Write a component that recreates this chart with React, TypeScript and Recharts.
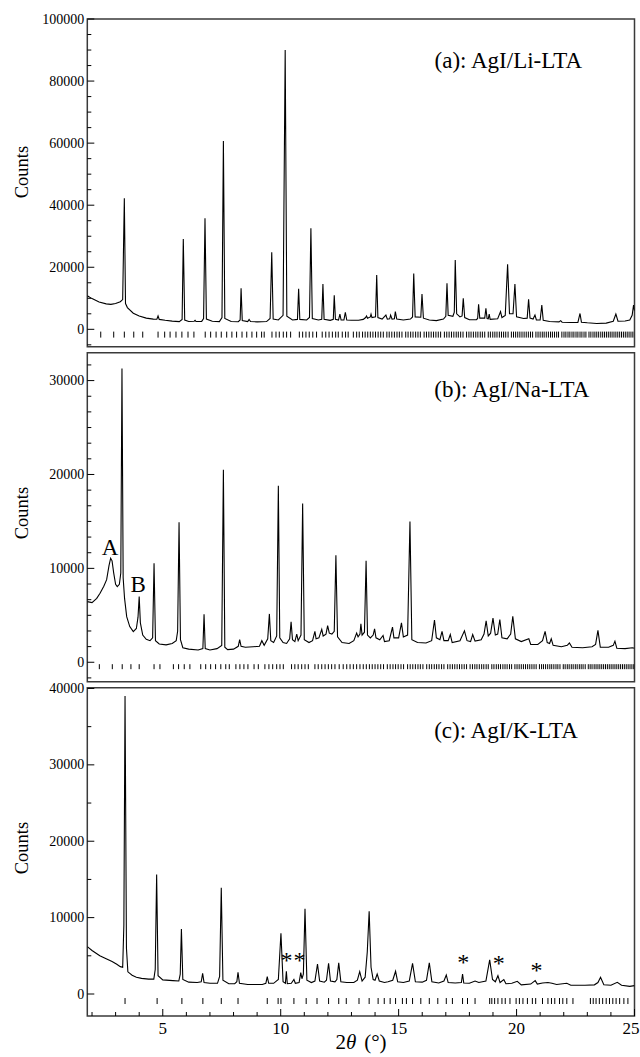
import React from 'react';
import { ComposedChart, Line, Scatter, XAxis, YAxis, ReferenceArea, ReferenceDot } from 'recharts';

const SERIF = '"Liberation Serif", "Times New Roman", Times, serif';

// ---- x axis ----
const X_MIN = 1.8;
const X_MAX = 25;
const X_TICKS = [2, 3, 4, 5, 6, 7, 8, 9, 10, 11, 12, 13, 14, 15, 16, 17, 18, 19, 20, 21, 22, 23, 24, 25];
const X_LABELS = [5, 10, 15, 20, 25];

// ---- (a) AgI/Li-LTA ----
const liPattern: [number, number][] = [
  [1.8, 10800], [2.0, 9900], [2.3, 8800], [2.6, 8200], [2.8, 8050], [3.0, 8300], [3.2, 8900], [3.3, 9600],
  [3.37, 42200], [3.42, 8300], [3.5, 7000], [3.75, 5200], [4.0, 4300], [4.3, 3600], [4.6, 3300], [4.75, 3250],
  [4.8, 4300], [4.85, 3200], [5.1, 2900], [5.4, 2650], [5.7, 2500], [5.82, 3200], [5.87, 29100], [5.93, 3000],
  [6.1, 2500], [6.33, 2600], [6.37, 2900], [6.41, 2500], [6.65, 2550], [6.73, 3500], [6.79, 35800], [6.85, 3300],
  [7.1, 2600], [7.4, 2500], [7.51, 3800], [7.57, 60700], [7.63, 3500], [7.9, 2500], [8.2, 2450], [8.28, 3000],
  [8.32, 13200], [8.37, 2800], [8.6, 2500], [8.66, 3200], [8.72, 2500], [9.0, 2400], [9.4, 2500], [9.55, 3500],
  [9.62, 24800], [9.68, 3300], [9.9, 3000], [10.1, 4500], [10.19, 90000], [10.26, 4200], [10.5, 3000], [10.71, 3200],
  [10.76, 13100], [10.81, 3200], [11.1, 3000], [11.22, 3800], [11.28, 32600], [11.34, 3500], [11.6, 3000], [11.74, 3200],
  [11.79, 14600], [11.84, 3200], [12.1, 2900], [12.23, 3200], [12.27, 11000], [12.32, 3200], [12.45, 3000], [12.51, 4900],
  [12.56, 3000], [12.68, 3000], [12.74, 5500], [12.8, 3000], [13.0, 2900], [13.3, 2900], [13.5, 3200], [13.6, 3800],
  [13.64, 4300], [13.68, 3600], [13.8, 4000], [13.83, 4900], [13.87, 3800], [14.02, 4000], [14.07, 17500], [14.12, 3800],
  [14.3, 3300], [14.46, 4600], [14.52, 3300], [14.62, 3400], [14.66, 4600], [14.72, 3300], [14.82, 3400], [14.86, 5700],
  [14.92, 3300], [15.2, 3000], [15.5, 3300], [15.59, 4000], [15.64, 18000], [15.7, 4000], [15.94, 3900], [15.99, 11400],
  [16.05, 3600], [16.3, 3000], [16.6, 2800], [16.9, 3300], [17.0, 4200], [17.05, 14800], [17.1, 4500], [17.3, 4200],
  [17.36, 5500], [17.4, 22300], [17.46, 5000], [17.6, 4000], [17.69, 4300], [17.74, 10000], [17.8, 3800], [18.0, 3100],
  [18.3, 3100], [18.35, 3500], [18.39, 8100], [18.44, 3600], [18.65, 3600], [18.7, 6800], [18.75, 3500], [18.8, 3400],
  [18.84, 4900], [18.88, 3200], [19.2, 3400], [19.32, 5700], [19.38, 3800], [19.52, 4500], [19.62, 21000], [19.7, 5000],
  [19.85, 5000], [19.93, 14600], [20.0, 4000], [20.3, 3500], [20.45, 3600], [20.51, 9700], [20.57, 3600], [20.7, 3300],
  [20.78, 4600], [20.84, 3000], [21.0, 3000], [21.07, 7800], [21.13, 2900], [21.4, 2500], [21.8, 2400], [21.87, 2800],
  [21.93, 2300], [22.3, 2200], [22.6, 2200], [22.69, 5100], [22.75, 2300], [23.0, 2100], [23.4, 1900], [23.8, 2000],
  [24.1, 2600], [24.21, 4900], [24.3, 2600], [24.6, 2700], [24.8, 3000], [24.9, 4500], [24.96, 7800], [25.0, 6000],
];
const liBragg = [
  2.37, 2.92, 3.37, 3.77, 4.15, 4.8, 5.08, 5.31, 5.56, 5.81, 6.07, 6.32, 6.8, 7.03, 7.26, 7.48, 7.71, 7.93, 8.13,
  8.36, 8.56, 8.78, 8.98, 9.19, 9.3, 9.63, 9.8, 9.94, 10.11, 10.25, 10.42, 10.79, 10.93, 11.07, 11.21, 11.36, 11.52,
  11.76, 11.91, 12.05, 12.19, 12.33, 12.44, 12.61, 12.75, 12.86, 13.08, 13.22, 13.33,
  13.47, 13.58, 13.69, 13.8, 13.91, 14.02, 14.13, 14.24, 14.35, 14.5, 14.6, 14.71, 14.82, 14.93, 15.03, 15.14, 15.3,
  15.4, 15.51, 15.61, 15.72, 15.82, 15.92, 16.08, 16.18, 16.28, 16.38, 16.48, 16.58, 16.68, 16.78, 16.94, 17.04, 17.14,
  17.24, 17.34, 17.44, 17.53, 17.63, 17.73, 17.88, 17.98, 18.07, 18.17, 18.27, 18.36, 18.46, 18.55, 18.65, 18.8, 18.89,
  18.99, 19.08, 19.17, 19.27, 19.36, 19.45, 19.54, 19.64, 19.78, 19.87, 19.96, 20.05, 20.14, 20.23, 20.32, 20.41, 20.5,
  20.59, 20.68, 20.82, 20.91, 21.0, 21.09, 21.17, 21.26, 21.35, 21.44, 21.52, 21.61, 21.7, 21.78, 21.92, 22.01, 22.09,
  22.18, 22.26, 22.35, 22.43, 22.52, 22.6, 22.69, 22.77, 22.86, 22.94, 23.07, 23.15, 23.24, 23.32, 23.4, 23.48, 23.57,
  23.65, 23.73, 23.81, 23.89, 23.97, 24.05, 24.13, 24.21, 24.29, 24.37, 24.45, 24.53, 24.61, 24.69, 24.77, 24.85, 24.93,
];
const liYTicks = [-5000, 0, 5000, 10000, 15000, 20000, 25000, 30000, 35000, 40000, 45000, 50000, 55000, 60000, 65000,
  70000, 75000, 80000, 85000, 90000, 95000, 100000];
const liYLabels = [0, 20000, 40000, 60000, 80000, 100000];

// ---- (b) AgI/Na-LTA ----
const naPattern: [number, number][] = [
  [1.8, 6460], [2.0, 6350], [2.2, 6800], [2.34, 7350], [2.5, 8100], [2.62, 8800], [2.72, 10300], [2.79, 11080],
  [2.85, 10800], [2.92, 9500], [3.0, 8300], [3.07, 8050], [3.16, 8300], [3.22, 9500], [3.27, 31300], [3.32, 9000],
  [3.38, 6800], [3.47, 4860], [3.6, 3800], [3.75, 3260], [3.88, 3600], [3.95, 4800], [4.0, 7000], [4.05, 4200],
  [4.15, 2900], [4.3, 2450], [4.46, 2300], [4.57, 2600], [4.63, 10550], [4.69, 2300], [4.85, 1950], [5.14, 1850],
  [5.4, 2000], [5.57, 2300], [5.63, 3300], [5.69, 14900], [5.75, 2400], [5.85, 1550], [6.1, 1400], [6.5, 1300],
  [6.7, 1450], [6.75, 5100], [6.8, 1450], [7.0, 1300], [7.3, 1450], [7.5, 1800], [7.57, 20500], [7.63, 1600],
  [7.75, 1350], [8.0, 1400], [8.2, 1700], [8.26, 2400], [8.32, 1700], [8.5, 1600], [8.83, 1650], [9.1, 1700],
  [9.2, 2300], [9.3, 1800], [9.45, 2500], [9.52, 5150], [9.58, 2300], [9.7, 2100], [9.83, 2800], [9.9, 18800],
  [9.96, 2600], [10.1, 2100], [10.25, 2000], [10.38, 2500], [10.44, 4300], [10.5, 2400], [10.6, 2200], [10.68, 3000],
  [10.74, 2300], [10.86, 2900], [10.93, 16900], [11.0, 2400], [11.2, 2100], [11.35, 2300], [11.45, 3300], [11.5, 2500],
  [11.62, 2600], [11.74, 3500], [11.8, 2800], [11.92, 3000], [11.99, 3900], [12.06, 3100], [12.17, 3000], [12.27, 3300],
  [12.34, 11400], [12.41, 2700], [12.6, 2100], [12.9, 2000], [13.1, 2300], [13.22, 3100], [13.28, 2700], [13.36, 3000],
  [13.4, 4100], [13.45, 2900], [13.55, 3200], [13.62, 10800], [13.68, 2900], [13.8, 2600], [13.92, 2900], [13.98, 3550],
  [14.04, 2600], [14.2, 2400], [14.34, 2850], [14.4, 2200], [14.6, 2300], [14.74, 3750], [14.8, 2600], [15.0, 2600],
  [15.12, 4200], [15.2, 2700], [15.38, 2900], [15.48, 15000], [15.56, 2400], [15.8, 2100], [16.16, 2050], [16.4, 2300],
  [16.52, 4500], [16.6, 2600], [16.75, 2400], [16.84, 3300], [16.92, 2300], [17.1, 2300], [17.19, 2950], [17.27, 2100],
  [17.6, 2300], [17.79, 3350], [17.9, 2300], [18.05, 2200], [18.14, 2950], [18.24, 2250], [18.5, 2400], [18.62, 3000],
  [18.71, 4400], [18.8, 2800], [18.9, 3100], [19.0, 4700], [19.1, 2900], [19.2, 3000], [19.29, 4550], [19.38, 2600],
  [19.6, 2500], [19.75, 3000], [19.84, 4900], [19.95, 2500], [20.2, 2200], [20.52, 2500], [20.6, 1900], [20.9, 1900],
  [21.1, 2300], [21.21, 3300], [21.3, 2100], [21.4, 2000], [21.47, 2500], [21.55, 1800], [21.9, 1650], [22.15, 1800],
  [22.24, 2050], [22.35, 1600], [22.8, 1550], [23.2, 1650], [23.35, 1900], [23.45, 3400], [23.55, 1600], [23.9, 1600],
  [24.1, 1800], [24.17, 2250], [24.25, 1500], [24.6, 1450], [24.91, 1550], [25.0, 1500],
];
const naBragg = [
  2.31, 2.86, 3.28, 3.65, 4.0, 4.63, 4.88, 5.45, 5.67, 5.91, 6.15, 6.61, 6.82, 7.03, 7.24, 7.46, 7.67, 7.82, 8.1,
  8.27, 8.44, 8.61, 8.87, 9.05, 9.33, 9.5, 9.66, 9.83, 9.97, 10.11, 10.46, 10.6, 10.74, 10.89, 11.03, 11.17, 11.45,
  11.59, 11.74, 11.88, 12.02, 12.16, 12.3, 12.48, 12.65, 12.8, 12.94, 13.08, 13.22,
  13.36, 13.5, 13.63, 13.76, 13.88, 14.0, 14.12, 14.24, 14.36, 14.52, 14.64, 14.76, 14.87, 14.98, 15.1, 15.21, 15.38,
  15.49, 15.6, 15.71, 15.82, 15.92, 16.03, 16.19, 16.3, 16.4, 16.51, 16.61, 16.71, 16.82, 16.92, 17.08, 17.18, 17.28,
  17.38, 17.48, 17.58, 17.68, 17.78, 17.88, 18.03, 18.13, 18.23, 18.32, 18.42, 18.52, 18.61, 18.71, 18.8, 18.95, 19.04,
  19.14, 19.23, 19.32, 19.42, 19.51, 19.6, 19.7, 19.79, 19.93, 20.02, 20.11, 20.2, 20.29, 20.38, 20.47, 20.56, 20.65,
  20.74, 20.83, 20.97, 21.06, 21.14, 21.23, 21.32, 21.41, 21.49, 21.58, 21.67, 21.75, 21.84, 21.98, 22.06, 22.15, 22.23,
  22.32, 22.4, 22.49, 22.57, 22.66, 22.74, 22.82, 22.91, 23.04, 23.12, 23.2, 23.29, 23.37, 23.45, 23.53, 23.61, 23.69,
  23.77, 23.85, 23.93, 24.01, 24.09, 24.17, 24.25, 24.33, 24.41, 24.49, 24.57, 24.65, 24.73, 24.81, 24.89, 24.97,
];
const naYTicks = [-1667, 0, 1667, 3333, 5000, 6667, 8333, 10000, 11667, 13333, 15000, 16667, 18333, 20000, 21667,
  23333, 25000, 26667, 28333, 30000, 31667];
const naYLabels = [0, 10000, 20000, 30000];

// ---- (c) AgI/K-LTA ----
const kPattern: [number, number][] = [
  [1.8, 6200], [2.0, 5700], [2.33, 5000], [2.6, 4600], [2.85, 4250], [3.05, 3900], [3.2, 3580], [3.3, 3500],
  [3.35, 9000], [3.4, 39000], [3.46, 6000], [3.52, 2900], [3.7, 2450], [3.88, 2200], [4.1, 2050], [4.4, 1950],
  [4.62, 1950], [4.68, 3200], [4.74, 15650], [4.8, 2400], [5.0, 1850], [5.43, 1750], [5.68, 1700], [5.74, 2600],
  [5.79, 8500], [5.85, 1900], [6.1, 1550], [6.46, 1500], [6.63, 1600], [6.69, 2700], [6.75, 1500], [7.0, 1400],
  [7.32, 1400], [7.41, 2300], [7.48, 13900], [7.55, 1800], [7.8, 1350], [8.05, 1350], [8.14, 1600], [8.19, 2850],
  [8.25, 1400], [8.6, 1250], [9.22, 1250], [9.37, 1400], [9.43, 2270], [9.49, 1400], [9.7, 1400], [9.9, 1900],
  [10.01, 7950], [10.1, 1600], [10.2, 1400], [10.24, 2970], [10.28, 1350], [10.45, 1400], [10.56, 1900], [10.62, 1400],
  [10.78, 1500], [10.85, 2800], [10.9, 2000], [10.96, 2600], [11.03, 11150], [11.11, 1800], [11.3, 1500], [11.45, 1700],
  [11.56, 3930], [11.65, 1700], [11.85, 1550], [11.94, 1800], [12.03, 4020], [12.11, 1700], [12.3, 1600], [12.38, 1900],
  [12.46, 4070], [12.55, 1600], [12.8, 1500], [13.1, 1500], [13.25, 1800], [13.35, 2930], [13.45, 1700], [13.58, 2200],
  [13.67, 5500], [13.75, 10840], [13.83, 3500], [13.92, 1900], [14.0, 1800], [14.09, 2620], [14.18, 1700], [14.4, 1500],
  [14.55, 1600], [14.75, 1800], [14.87, 2970], [14.96, 1600], [15.2, 1500], [15.45, 1700], [15.59, 4020], [15.71, 1600],
  [16.0, 1550], [16.18, 1800], [16.3, 4070], [16.41, 1600], [16.7, 1450], [16.92, 1700], [17.02, 2490], [17.1, 1500],
  [17.4, 1450], [17.66, 1500], [17.71, 2620], [17.76, 1450], [18.0, 1400], [18.24, 1700], [18.4, 1500], [18.7, 1700],
  [18.86, 4460], [18.98, 1900], [19.1, 1600], [19.21, 2400], [19.3, 1500], [19.46, 1880], [19.55, 1350], [19.8, 1400],
  [20.03, 1660], [20.2, 1200], [20.6, 1300], [20.79, 1750], [20.88, 1300], [21.1, 1450], [21.33, 1500], [21.5, 1400],
  [21.7, 1250], [22.13, 1400], [22.3, 1150], [22.9, 1150], [23.3, 1200], [23.45, 1500], [23.56, 2190], [23.7, 1200],
  [24.0, 1150], [24.27, 1530], [24.45, 1150], [24.8, 1000], [25.0, 1100],
];
const kBragg = [
  3.4, 4.76, 5.81, 6.7, 7.48, 8.19, 9.43, 9.89, 10.01, 10.56, 11.08, 11.54, 12.03, 12.46, 12.78, 13.32, 13.75, 14.13,
  14.39, 14.64, 14.87, 15.16, 15.33, 15.59, 15.94, 16.3, 16.66, 17.02, 17.28, 17.71, 17.92, 18.24, 18.86, 18.95, 19.07,
  19.21, 19.38, 19.52, 19.72, 19.98, 20.12, 20.27, 20.46, 20.67, 20.81, 21.1, 21.33, 21.48, 21.62, 21.82, 21.96, 22.13,
  22.39, 23.13, 23.25, 23.37, 23.51, 23.65, 23.8, 23.94, 24.08, 24.22, 24.37, 24.55, 24.72,
];
const kYTicks = [0, 5000, 10000, 15000, 20000, 25000, 30000, 35000, 40000];
const kYLabels = [0, 10000, 20000, 30000, 40000];

// ---- annotations ----
const kStarX = [10.25, 10.8, 17.74, 19.24, 20.84];
const kStarY = [4500, 4500, 4300, 4100, 3200];

const XTick = (props: any) => {
  const { x, y, payload, showLabel } = props;
  const major = X_LABELS.includes(payload.value);
  const last = payload.value === X_MAX;
  return (
    <g>
      <line x1={x} x2={x} y1={y} y2={y - (major ? 7 : 4)} stroke="#000" strokeWidth={1} />
      {showLabel && major ? (
        <text x={last ? 639.5 : x} y={y + 17.5} textAnchor={last ? 'end' : 'middle'} fontSize={17}
          fontFamily={SERIF} fill="#000">
          {payload.value}
        </text>
      ) : null}
    </g>
  );
};

const YTick = (props: any) => {
  const { x, y, payload, labels } = props;
  const major = labels.includes(payload.value);
  return (
    <g>
      <line x1={x} x2={x + (major ? 7 : 4)} y1={y} y2={y} stroke="#000" strokeWidth={1} />
      {major ? (
        <text x={x - 3} y={y + 4.5} textAnchor="end" fontSize={14} fontFamily={SERIF} fill="#000">
          {payload.value}
        </text>
      ) : null}
    </g>
  );
};

const YTitle = (props: any) => {
  const { cy } = props;
  return (
    <text x={22} y={cy} transform={`rotate(-90 22 ${cy})`} textAnchor="middle" dominantBaseline="central"
      fontSize={18.5} fontFamily={SERIF} fill="#000">Counts</text>
  );
};

const XTitle = (props: any) => {
  const { ty } = props;
  return (
    <text x={361} y={ty} textAnchor="middle" fontSize={21} fontFamily={SERIF} fill="#000">
      <tspan>2</tspan><tspan fontStyle="italic">θ</tspan><tspan dx={8}>(°)</tspan>
    </text>
  );
};

type PanelProps = {
  top: number; height: number; marginTop: number; marginBottom: number; xAxisHeight: number;
  showXLabels: boolean; points: [number, number][]; bragg: number[]; braggY: number; braggLen: number;
  yDomain: [number, number]; yTicks: number[]; yLabels: number[]; title: string; titleX: number; titleY: number;
  countsY: number; children?: React.ReactNode; xTitleY?: number;
};

function Panel(p: PanelProps) {
  const data = p.points.map(([x, y]) => ({ x, y }));
  const marks = p.bragg.map((x) => ({ x, y: p.braggY }));
  const half = p.braggLen / 2;
  return (
    <div style={{ position: 'absolute', left: 0, top: p.top, width: 640, height: p.height }}>
      <ComposedChart width={640} height={p.height} margin={{ top: p.marginTop, right: 5.5, bottom: p.marginBottom, left: 0 }}>
        <XAxis type="number" dataKey="x" domain={[X_MIN, X_MAX]} ticks={X_TICKS} interval={0} allowDataOverflow
          height={p.xAxisHeight} tickSize={0} tickMargin={0} axisLine={false} tickLine={false}
          tick={<XTick showLabel={p.showXLabels} />}
          label={p.showXLabels ? <XTitle ty={p.xTitleY} /> : undefined} />
        <YAxis type="number" domain={p.yDomain} ticks={p.yTicks} interval={0} allowDataOverflow width={87.3}
          tickSize={0} tickMargin={0} axisLine={false} tickLine={false} tick={<YTick labels={p.yLabels} />}
          label={<YTitle cy={p.countsY} />} />
        <ReferenceArea x1={X_MIN} x2={X_MAX} y1={p.yDomain[0]} y2={p.yDomain[1]} fill="none" fillOpacity={0}
          stroke="#3a3a3a" strokeWidth={1.5} ifOverflow="visible" />
        <Scatter data={marks} dataKey="y" isAnimationActive={false}
          shape={(s: any) => (
            <line x1={s.cx} x2={s.cx} y1={s.cy - half} y2={s.cy + half} stroke="#000" strokeWidth={1} />
          )} />
        <Line data={data} dataKey="y" type="linear" stroke="#000" strokeWidth={1.1} dot={false}
          isAnimationActive={false} />
        <ReferenceDot x={p.titleX} y={p.titleY} r={0} fill="none" stroke="none"
          label={{ value: p.title, position: 'center', fontSize: 23, fontFamily: SERIF, fill: '#000' }} />
        {p.children}
      </ComposedChart>
    </div>
  );
}

export default function App() {
  return (
    <div style={{ position: 'absolute', left: 0, top: 0, width: 640, height: 1057, background: '#fff' }}>
      <Panel top={0} height={350} marginTop={19} marginBottom={3.3} xAxisHeight={0} showXLabels={false}
        points={liPattern} bragg={liBragg} braggY={-1700} braggLen={6} yDomain={[-5600, 100000]}
        yTicks={liYTicks} yLabels={liYLabels} title="(a): AgI/Li-LTA" titleX={19.65} titleY={86800} countsY={172} />
      <Panel top={350} height={335} marginTop={2.7} marginBottom={3.3} xAxisHeight={0} showXLabels={false}
        points={naPattern} bragg={naBragg} braggY={-470} braggLen={5} yDomain={[-2070, 32970]}
        yTicks={naYTicks} yLabels={naYLabels} title="(b): AgI/Na-LTA" titleX={19.8} titleY={29070} countsY={163}>
        <ReferenceDot x={2.76} y={12310} r={0} fill="none" stroke="none"
          label={{ value: 'A', position: 'center', fontSize: 23, fontFamily: SERIF, fill: '#000' }} />
        <ReferenceDot x={3.96} y={8340} r={0} fill="none" stroke="none"
          label={{ value: 'B', position: 'center', fontSize: 23, fontFamily: SERIF, fill: '#000' }} />
      </Panel>
      <Panel top={675} height={382} marginTop={12.7} marginBottom={0} xAxisHeight={41} showXLabels={true}
        xTitleY={374} points={kPattern} bragg={kBragg} braggY={-920} braggLen={6} yDomain={[-2880, 40100]}
        yTicks={kYTicks} yLabels={kYLabels} title="(c): AgI/K-LTA" titleX={19.55} titleY={34560} countsY={173}>
        {kStarX.map((x, i) => (
          <ReferenceDot key={i} x={x} y={kStarY[i]} r={0} fill="none" stroke="none"
            label={{ value: '*', position: 'center', fontSize: 24, fontFamily: SERIF, fill: '#000' }} />
        ))}
      </Panel>
    </div>
  );
}
